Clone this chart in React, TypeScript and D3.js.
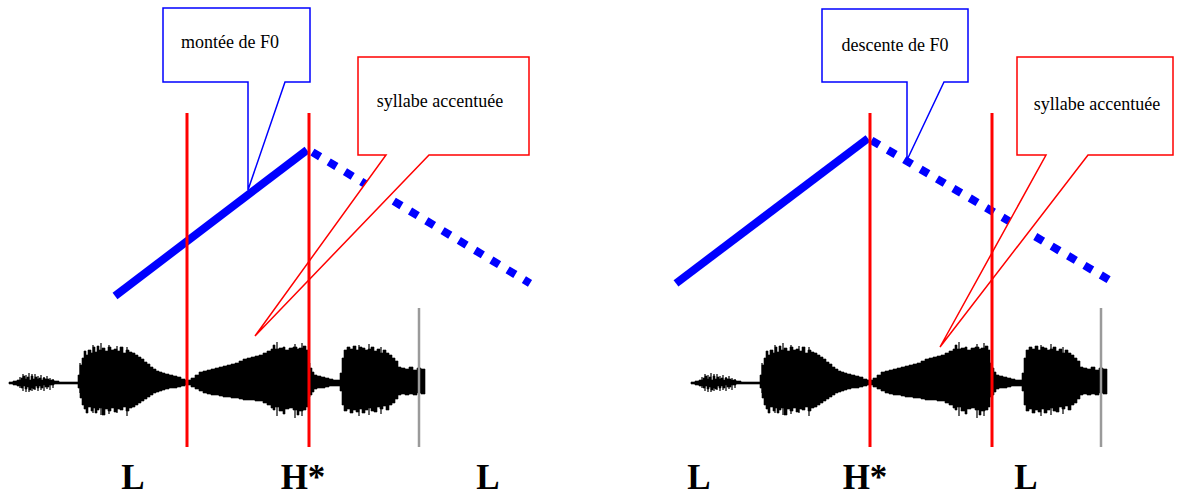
import React from 'react';
import * as d3 from 'd3';

// ---- Waveform envelope (offset from waveform start, upper / lower amplitude in px units) ----
const waveOffsets = [0,4,8,12,14,16,18,20,22,24,26,28,30,32,34,36,40,45,50,55,60,66,69,71,73,75,77,79,82,84,86,88,90,93,96,99,102,105,108,111,114,117,120,123,126,129,132,135,138,141,144,147,150,153,156,160,164,168,172,176,178,182,186,190,194,198,202,206,210,214,218,222,226,230,234,238,242,246,250,254,258,262,264,266,270,274,276,280,284,288,290,294,297,299,301,303,305,308,312,316,320,324,328,331,333,335,338,341,344,347,350,353,356,359,362,365,368,371,374,377,380,383,386,389,392,396,400,404,408,412,416];
const waveTop = [1,2,3,5,7,4,6,3,7,4,6,4,5,3,5,4,3,2,1,1,1,1,8,18,25,32,28,33,30,36,31,37,33,35,32,36,33,34,32,36,30,33,31,30,28,26,24,21,19,16,14,12,11,10,9,8,7,6,4,3,3,5,8,11,12,13,14,15,16,17,18,19,20,22,24,25,26,27,28,30,32,34,38,34,35,36,33,35,36,34,35,37,33,20,15,11,8,7,6,5,4,3,3,10,25,33,36,34,37,33,36,35,33,34,36,32,34,30,33,30,28,25,22,16,15,14,16,13,15,14,14];
const waveBottom = [1,2,3,5,3,6,4,7,5,6,3,5,3,5,2,4,2,1,1,1,1,1,5,15,22,26,30,24,28,25,30,27,25,32,26,28,25,29,26,27,24,28,25,24,22,20,18,16,14,12,10,9,8,7,6,5,5,4,3,2,2,4,6,8,10,11,12,12,13,14,14,15,15,16,17,17,17,18,18,20,22,25,27,24,28,31,26,25,27,32,28,27,24,14,12,9,6,5,5,4,3,3,3,8,22,28,26,30,27,29,26,30,27,25,28,29,24,26,23,27,22,20,16,12,11,12,11,12,10,11,11];
// spikes: offset, up, down
const spikeOffsets = [11,14,17,20,23,26,29,32,35,38,41,44,71,84,92,100,108,118,268,286,293,350,360,372];
const spikeUp = [6,9,8,10,9,9,7,8,6,7,5,4,20,38,40,38,37,36,41,39,40,38,39,36];
const spikeDown = [5,8,9,9,8,7,8,7,8,6,7,5,10,30,32,31,30,33,33,35,33,33,32,31];

// ---- Panels ----
const accentBounds = [[178, 300], [179, 301]];
const endMarks = [410, 410];
const toneLabels = [["L", "H*", "L"], ["L", "H*", "L"]];
const toneTimes = [[124, 294, 479], [8, 174, 335]];
const f0SolidT = [[106, 298], [-15, 177]];
const f0SolidHz = [[100, 250], [113, 262]];
const f0DottedT = [[300, 521], [177, 424]];
const f0DottedHz = [[250, 113], [262, 113]];
const f0Labels = ["montée de F0", "descente de F0"];
const accentLabel = "syllabe accentuée";

// ---- Layout ----
const W = 1188, H = 497;
const panelX0 = [9, 691];
const waveCenter = 383;
const waveLen = 416;
const callouts = [
  {
    blue: { box: [163, 8, 310, 82], tail: [248, 285], tip: [248, 190], text: [230, 48] },
    red: { box: [358, 57, 529, 155], tail: [386, 429], tip: [255, 336], text: [440, 107] },
  },
  {
    blue: { box: [822, 9, 968, 82], tail: [907, 944], tip: [907, 160], text: [895, 51] },
    red: { box: [1017, 57, 1173, 155], tail: [1046, 1088], tip: [940, 347], text: [1097, 110] },
  },
];

const BLUE = '#0000ff';
const RED = '#ff0000';
const SERIF = '"Liberation Serif", "Times New Roman", Times, serif';

function calloutPath(c: { box: number[]; tail: number[]; tip: number[] }) {
  const [l, t, r, b] = c.box;
  const p = d3.path();
  p.moveTo(l, t);
  p.lineTo(r, t);
  p.lineTo(r, b);
  p.lineTo(c.tail[1], b);
  p.lineTo(c.tip[0], c.tip[1]);
  p.lineTo(c.tail[0], b);
  p.lineTo(l, b);
  p.closePath();
  return p.toString();
}

const yF0 = d3.scaleLinear().domain([100, 250]).range([296, 150]);
const yAmp = d3.scaleLinear().domain([-50, 50]).range([waveCenter + 50, waveCenter - 50]);

function Panel({ i }: { i: number }) {
  const x = d3.scaleLinear().domain([0, waveLen]).range([panelX0[i], panelX0[i] + waveLen]);
  const pts = waveOffsets.map((o, k) => ({ o, t: waveTop[k], b: waveBottom[k] }));
  const area = d3
    .area<{ o: number; t: number; b: number }>()
    .x((d) => x(d.o))
    .y0((d) => yAmp(-d.b))
    .y1((d) => yAmp(d.t))
    .curve(d3.curveStepAfter);
  const line = d3.line<[number, number]>().x((d) => x(d[0])).y((d) => yF0(d[1]));
  const solid = f0SolidT[i].map((t, k) => [t, f0SolidHz[i][k]] as [number, number]);
  const dotted = f0DottedT[i].map((t, k) => [t, f0DottedHz[i][k]] as [number, number]);
  const c = callouts[i];
  return (
    <g>
      {/* waveform */}
      <path d={area(pts) || ''} fill="#000" stroke="#000" strokeWidth={0.6} />
      {spikeOffsets.map((o, k) => (
        <line key={k} x1={x(o)} x2={x(o)} y1={yAmp(spikeUp[k])} y2={yAmp(-spikeDown[k])} stroke="#000" strokeWidth={1.2} />
      ))}
      {/* end mark */}
      <line x1={x(endMarks[i])} x2={x(endMarks[i])} y1={308} y2={447} stroke="#9a9a9a" strokeWidth={2.5} />
      {/* F0 contour */}
      <path d={line(solid) || ''} stroke={BLUE} strokeWidth={8} fill="none" />
      <path d={line(dotted) || ''} stroke={BLUE} strokeWidth={8} fill="none" strokeDasharray="9,10" strokeDashoffset={-4} />
      {/* callouts */}
      <path d={calloutPath(c.blue)} fill="#fff" stroke={BLUE} strokeWidth={1.5} />
      <path d={calloutPath(c.red)} fill="#fff" stroke={RED} strokeWidth={1.5} />
      <text x={c.blue.text[0]} y={c.blue.text[1]} textAnchor="middle" fontFamily={SERIF} fontSize={18} fill="#000">
        {f0Labels[i]}
      </text>
      <text x={c.red.text[0]} y={c.red.text[1]} textAnchor="middle" fontFamily={SERIF} fontSize={18} fill="#000">
        {accentLabel}
      </text>
      {/* accented syllable boundaries */}
      {accentBounds[i].map((t, k) => (
        <line key={k} x1={x(t)} x2={x(t)} y1={113} y2={447} stroke={RED} strokeWidth={3} />
      ))}
      {/* tones */}
      {toneLabels[i].map((lab, k) => (
        <text key={k} x={x(toneTimes[i][k])} y={489} textAnchor="middle" fontFamily={SERIF} fontWeight="bold" fontSize={35} fill="#000">
          {lab}
        </text>
      ))}
    </g>
  );
}

export default function App() {
  return (
    <svg width={W} height={H} style={{ position: 'absolute', left: 0, top: 0, background: '#fff' }}>
      <rect width={W} height={H} fill="#fff" />
      <Panel i={0} />
      <Panel i={1} />
    </svg>
  );
}
